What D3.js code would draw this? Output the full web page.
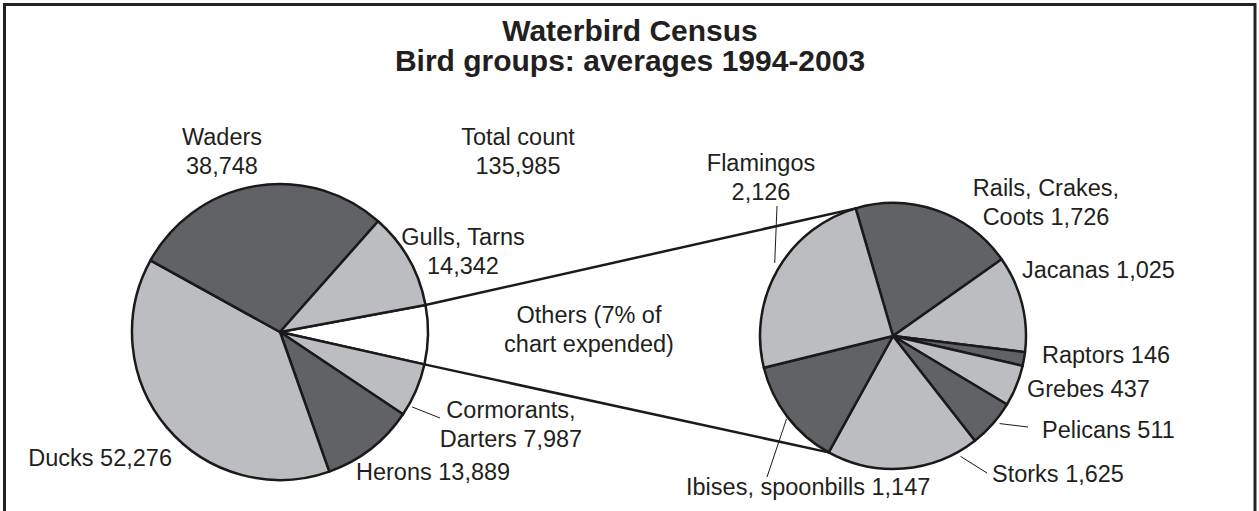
<!DOCTYPE html>
<html>
<head>
<meta charset="utf-8">
<script src="https://cdn.jsdelivr.net/npm/d3@7"></script>
<style>
    body { margin: 0; background: #fff; }
    text { font-family: "Liberation Sans", Arial, sans-serif; fill: #231f20; }
</style>
</head>
<body>
<svg id="chart" width="1259" height="511"></svg>
<script>
// Main pie data (counts, averages 1994-2003)
var mainNames = ["Others", "Cormorants, Darters", "Herons", "Ducks", "Waders", "Gulls, Tarns"];
var mainValues = [8743, 7987, 13889, 52276, 38748, 14342];
var mainShades = ["none", "light", "dark", "light", "dark", "light"];

// Expanded "Others" pie
var otherNames = ["Rails, Crakes, Coots", "Jacanas", "Raptors", "Grebes", "Pelicans", "Storks", "Ibises, spoonbills", "Flamingos"];
var otherValues = [1726, 1025, 146, 437, 511, 1625, 1147, 2126];
var otherShades = ["dark", "light", "dark", "light", "dark", "light", "dark", "light"];

var titleLines = ["Waterbird Census", "Bird groups: averages 1994-2003"];
var totalLabel = ["Total count", "135,985"];
var othersNote = ["Others (7% of", "chart expended)"];

var shadeColor = {none: "#ffffff", light: "#bcbdc0", dark: "#616265"};
var fmt = d3.format(",");
var deg = Math.PI / 180;

var svg = d3.select("#chart");

// frame
svg.append("rect")
    .attr("x", 4.5).attr("y", 4.5)
    .attr("width", 1250.5).attr("height", 540)
    .attr("fill", "none")
    .attr("stroke", "#222")
    .attr("stroke-width", 3);

// title
svg.selectAll(".title")
    .data(titleLines)
    .enter().append("text")
    .attr("class", "title")
    .attr("x", 630)
    .attr("y", function(d, i){ return 41 + i * 30; })
    .attr("text-anchor", "middle")
    .style("font-size", "30px")
    .style("font-weight", "bold")
    .text(function(d){ return d; });

// pie layouts
var left = {cx: 280, cy: 332, r: 148};
var right = {cx: 893, cy: 336, r: 133};

var mainPie = d3.pie().sort(null).startAngle(79.5 * deg).endAngle(439.5 * deg);
var otherPie = d3.pie().sort(null).startAngle(-16.3 * deg).endAngle(343.7 * deg);

var mainArcs = mainPie(mainValues);
var otherArcs = otherPie(otherValues);

var leftArc = d3.arc().innerRadius(0).outerRadius(left.r);
var rightArc = d3.arc().innerRadius(0).outerRadius(right.r);

function pointOn(c, angle, r) {
    return [c.cx + r * Math.sin(angle), c.cy - r * Math.cos(angle)];
}

var gLeft = svg.append("g").attr("transform", "translate(" + left.cx + "," + left.cy + ")");
gLeft.selectAll("path")
    .data(mainArcs)
    .enter().append("path")
    .attr("d", leftArc)
    .attr("fill", function(d, i){ return shadeColor[mainShades[i]]; })
    .attr("stroke", "#1a1a1a")
    .attr("stroke-width", 2.5)
    .attr("stroke-linejoin", "round");

var gRight = svg.append("g").attr("transform", "translate(" + right.cx + "," + right.cy + ")");
gRight.selectAll("path")
    .data(otherArcs)
    .enter().append("path")
    .attr("d", rightArc)
    .attr("fill", function(d, i){ return shadeColor[otherShades[i]]; })
    .attr("stroke", "#1a1a1a")
    .attr("stroke-width", 2.5)
    .attr("stroke-linejoin", "round");

// connector lines from the "Others" slice to the expanded pie
var othersArc = mainArcs[0];
var storksArc = otherArcs[5];
var connectors = [
    [pointOn(left, othersArc.startAngle, left.r), pointOn(right, otherArcs[0].startAngle, right.r)],
    [pointOn(left, othersArc.endAngle, left.r), pointOn(right, storksArc.endAngle, right.r)]
];
svg.selectAll(".connector")
    .data(connectors)
    .enter().append("line")
    .attr("class", "connector")
    .attr("x1", function(d){ return d[0][0]; })
    .attr("y1", function(d){ return d[0][1]; })
    .attr("x2", function(d){ return d[1][0]; })
    .attr("y2", function(d){ return d[1][1]; })
    .attr("stroke", "#1a1a1a")
    .attr("stroke-width", 2.5);

// label placement: lines of text, anchor, x, first baseline, optional leader
// leader: slice fraction, extra radius, end point
var labelLayout = [
    {pie: "main", i: 4, lines: ["Waders", fmt(mainValues[4])], anchor: "middle", x: 222, y: 145},
    {pie: "main", i: 5, lines: ["Gulls, Tarns", fmt(mainValues[5])], anchor: "middle", x: 463, y: 245},
    {pie: "main", i: 1, lines: ["Cormorants,", "Darters " + fmt(mainValues[1])], anchor: "middle", x: 511, y: 418,
        leader: {f: 0.8, dr: 4, end: [440, 418]}},
    {pie: "main", i: 2, lines: ["Herons " + fmt(mainValues[2])], anchor: "start", x: 356, y: 480},
    {pie: "main", i: 3, lines: ["Ducks " + fmt(mainValues[3])], anchor: "end", x: 172, y: 466},
    {pie: "other", i: 7, lines: ["Flamingos", fmt(otherValues[7])], anchor: "middle", x: 761, y: 171,
        leader: {f: 0.52, dr: 6, end: [777, 206]}},
    {pie: "other", i: 0, lines: ["Rails, Crakes,", "Coots " + fmt(otherValues[0])], anchor: "middle", x: 1046, y: 196},
    {pie: "other", i: 1, lines: ["Jacanas " + fmt(otherValues[1])], anchor: "start", x: 1022, y: 278},
    {pie: "other", i: 2, lines: ["Raptors " + fmt(otherValues[2])], anchor: "start", x: 1042, y: 363},
    {pie: "other", i: 3, lines: ["Grebes " + fmt(otherValues[3])], anchor: "start", x: 1027, y: 397},
    {pie: "other", i: 4, lines: ["Pelicans " + fmt(otherValues[4])], anchor: "start", x: 1042, y: 438,
        leader: {f: 0.4, dr: 5, end: [1028, 427]}},
    {pie: "other", i: 5, lines: ["Storks " + fmt(otherValues[5])], anchor: "start", x: 992, y: 482,
        leader: {f: 0.13, dr: 5, end: [987, 473]}},
    {pie: "other", i: 6, lines: ["Ibises, spoonbills " + fmt(otherValues[6])], anchor: "start", x: 686, y: 495,
        leader: {f: 0.49, dr: 2, end: [767, 477]}}
];

// leader lines
labelLayout.filter(function(d){ return d.leader; }).forEach(function(d){
    var c = d.pie == "main" ? left : right;
    var a = (d.pie == "main" ? mainArcs : otherArcs)[d.i];
    var ang = a.startAngle + d.leader.f * (a.endAngle - a.startAngle);
    var p = pointOn(c, ang, c.r + d.leader.dr);
    svg.append("line")
        .attr("x1", p[0]).attr("y1", p[1])
        .attr("x2", d.leader.end[0]).attr("y2", d.leader.end[1])
        .attr("stroke", "#1a1a1a")
        .attr("stroke-width", 1);
});

function addBlock(lines, anchor, x, y) {
    var t = svg.append("text")
        .attr("text-anchor", anchor)
        .style("font-size", "23.5px");
    lines.forEach(function(s, k){
        t.append("tspan").attr("x", x).attr("y", y + k * 28.5).text(s);
    });
}

labelLayout.forEach(function(d){ addBlock(d.lines, d.anchor, d.x, d.y); });
addBlock(totalLabel, "middle", 518, 145);
addBlock(othersNote, "middle", 589, 323);
</script>
</body>
</html>
